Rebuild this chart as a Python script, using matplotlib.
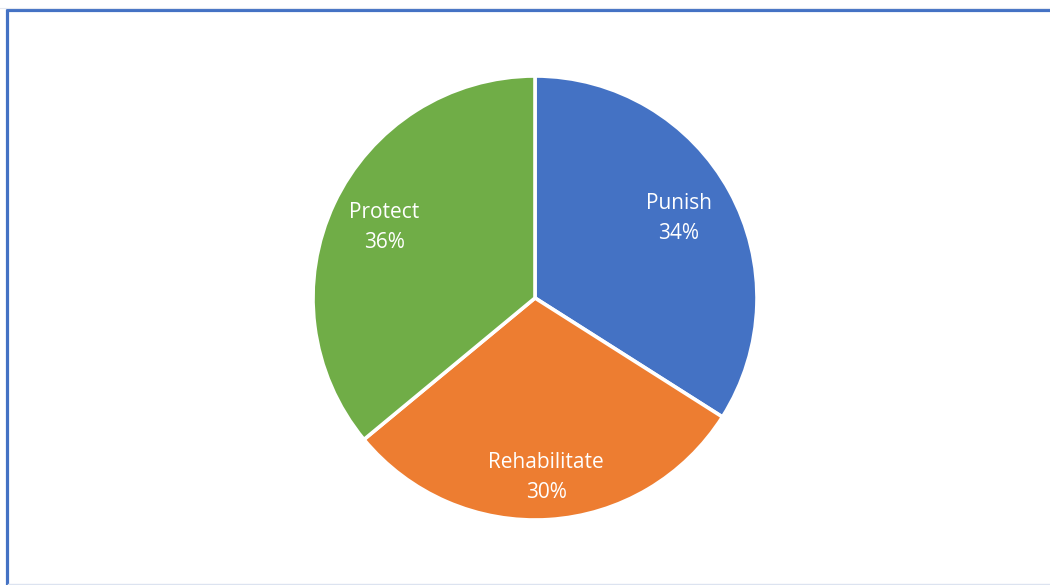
import matplotlib
matplotlib.use("Agg")
import matplotlib.pyplot as plt
from matplotlib.lines import Line2D
import numpy as np

categories = ["Punish", "Rehabilitate", "Protect"]
shares = [34, 30, 36]
colors = ["#4472C4", "#ED7D31", "#70AD47"]
label_radius = [0.74, 0.81, 0.75]

W, H, DPI = 1050, 585, 100
fig = plt.figure(figsize=(W / DPI, H / DPI), dpi=DPI)
fig.patch.set_facecolor("white")

# frame around the chart area
fig.add_artist(Line2D([6.5 / W, 6.5 / W], [0, 1 - 9 / H], transform=fig.transFigure,
                      color="#4472C4", lw=2.3, solid_capstyle="butt"))
fig.add_artist(Line2D([5.5 / W, 1], [1 - 10 / H, 1 - 10 / H], transform=fig.transFigure,
                      color="#4472C4", lw=2.3, solid_capstyle="butt"))
fig.add_artist(Line2D([8 / W, 1], [1 - 584 / H, 1 - 584 / H], transform=fig.transFigure,
                      color="#DCE3F0", lw=1.0))
fig.add_artist(Line2D([0, 1], [1 - 8 / H, 1 - 8 / H], transform=fig.transFigure,
                      color="#E4E8F0", lw=0.8))

cx, cy, r = 535, 298, 222
ax = fig.add_axes([(cx - r) / W, 1 - (cy + r) / H, 2 * r / W, 2 * r / H])
wedges, _ = ax.pie(shares, colors=colors, startangle=90, counterclock=False,
                   wedgeprops=dict(edgecolor="white", linewidth=2.6))
ax.set_aspect("equal")
ax.set_xlim(-1, 1)
ax.set_ylim(-1, 1)

for w, name, val, rr in zip(wedges, categories, shares, label_radius):
    mid = np.deg2rad((w.theta1 + w.theta2) / 2)
    ax.text(rr * np.cos(mid), rr * np.sin(mid), f"{name}\n{val}%",
            ha="center", va="center", color="white", fontsize=15,
            family="Open Sans", linespacing=1.55)

fig.savefig("out.png", dpi=DPI, facecolor="white")
